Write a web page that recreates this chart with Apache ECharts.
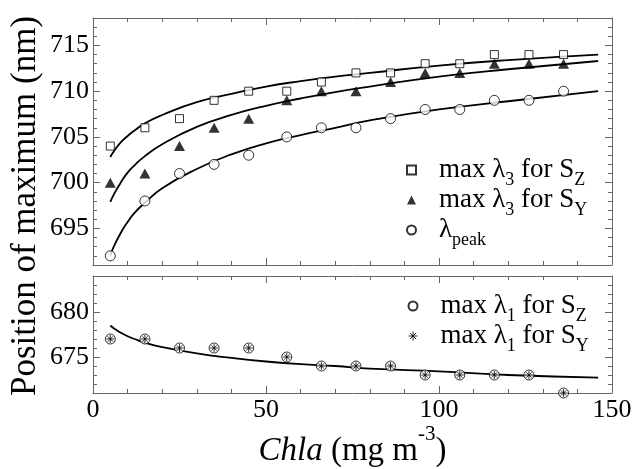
<!DOCTYPE html>
<html>
<head>
<meta charset="utf-8">
<script src="https://cdn.jsdelivr.net/npm/echarts@6/dist/echarts.min.js"></script>
<style>
  html, body { margin: 0; padding: 0; background: #fff; }
  #chart { width: 632px; height: 469px; }
</style>
</head>
<body>
<div id="chart"></div>
<script>
// Chlorophyll concentration bins (mg m^-3)
const chla = [5, 15, 25, 35, 45, 56, 66, 76, 86, 96, 106, 116, 126, 136];

// Upper panel: positions of the maxima (nm)
const maxL3Sz = [704, 706, 707, 709, 710, 710, 711, 712, 712, 713, 713, 714, 714, 714];
const maxL3Sy = [700, 701, 704, 706, 707, 709, 710, 710, 711, 712, 712, 713, 713, 713];
const lambdaPeak = [692, 698, 701, 702, 703, 705, 706, 706, 707, 708, 708, 709, 709, 710];

// Lower panel: max of lambda_1 (both spectra coincide)
const maxL1Sz = [677, 677, 676, 676, 676, 675, 674, 674, 674, 673, 673, 673, 673, 671];
const maxL1Sy = [677, 677, 676, 676, 676, 675, 674, 674, 674, 673, 673, 673, 673, 671];

// Fitted trend curves
const fitX = [5, 6, 8, 10, 12, 15, 20, 30, 40, 50, 60, 70, 80, 100, 120, 146];
const fitSz = [702.8, 703.4, 704.4, 705.1, 705.7, 706.5, 707.4, 708.8, 709.7, 710.5, 711.1, 711.6, 712.0, 712.8, 713.4, 714.0];
const fitSy = [697.9, 698.7, 700.0, 701.1, 701.9, 702.9, 704.2, 706.1, 707.4, 708.4, 709.2, 709.9, 710.5, 711.6, 712.4, 713.3];
const fitPeak = [692.0, 693.0, 694.5, 695.7, 696.7, 697.8, 699.4, 701.5, 703.1, 704.3, 705.2, 706.0, 706.8, 708.0, 708.9, 710.0];
const fitL1 = [678.5, 678.2, 677.7, 677.3, 677.0, 676.6, 676.1, 675.4, 674.9, 674.5, 674.2, 674.0, 673.7, 673.4, 673.0, 672.7];

// Tick labels
const yTicksTop = [695, 700, 705, 710, 715];
const yTicksBottom = [675, 680];
const xRange = [0, 150];
const yRangeTop = [691, 718];
const yRangeBottom = [671, 684];

const FONT = "'Liberation Serif', 'DejaVu Serif', serif";
const AXIS_COLOR = '#666';
const zip = (xs, ys) => xs.map((x, i) => [x, ys[i]]);

function xAxesFor(gridIndex, showLabels) {
  const base = {
    gridIndex, type: 'value', min: xRange[0], max: xRange[1], interval: 50,
    splitLine: { show: false },
    axisLine: { show: true, onZero: false, lineStyle: { color: AXIS_COLOR, width: 1 } },
    axisTick: { show: true, inside: true, length: 7, lineStyle: { color: AXIS_COLOR } },
    minorTick: { show: true, splitNumber: 5, length: 4, lineStyle: { color: AXIS_COLOR } }
  };
  return [
    Object.assign({}, base, {
      position: 'bottom',
      axisLabel: showLabels
        ? { show: true, fontFamily: FONT, fontSize: 26, color: '#000', margin: 4 }
        : { show: false },
      name: showLabels ? '{i|Chla}{n| (mg m}{sup|-3}{n|)}' : '',
      nameLocation: 'middle',
      nameGap: 31,
      nameTextStyle: {
        rich: {
          i: { fontFamily: FONT, fontSize: 33, fontStyle: 'italic', color: '#000', lineHeight: 40 },
          n: { fontFamily: FONT, fontSize: 33, color: '#000', lineHeight: 40 },
          sup: { fontFamily: FONT, fontSize: 21, color: '#000', lineHeight: 40, padding: [0, 0, 34, 0] }
        }
      }
    }),
    Object.assign({}, base, { position: 'top', axisLabel: { show: false } })
  ];
}

function yAxesFor(gridIndex, range, majors) {
  const common = {
    gridIndex, type: 'value', min: range[0], max: range[1],
    splitLine: { show: false }
  };
  const minor = (pos) => Object.assign({}, common, {
    position: pos, interval: 1,
    axisLine: { show: true, onZero: false, lineStyle: { color: AXIS_COLOR, width: 1 } },
    axisTick: { show: true, inside: true, length: 4, lineStyle: { color: AXIS_COLOR } },
    axisLabel: { show: false }
  });
  const major = (pos, labels) => Object.assign({}, common, {
    position: pos,
    axisLine: { show: false, onZero: false },
    axisTick: { show: true, inside: true, length: 7, customValues: majors, lineStyle: { color: AXIS_COLOR } },
    axisLabel: labels
      ? { show: true, customValues: majors, fontFamily: FONT, fontSize: 26, color: '#000', margin: 4 }
      : { show: false }
  });
  return [minor('left'), major('left', true), minor('right'), major('right', false)];
}

const lineStyle = { color: '#000', width: 1.8 };
const openStyle = { color: '#fff', borderColor: '#000', borderWidth: 1 };
const starStyle = { color: 'none', borderColor: '#000', borderWidth: 1 };
const asterisk = 'path://M5 0L5 10M0 5L10 5M1.6 1.6L8.4 8.4M8.4 1.6L1.6 8.4';

const legendRich = {
  t: { fontFamily: FONT, fontSize: 27, color: '#000', lineHeight: 30 },
  s: { fontFamily: FONT, fontSize: 18, color: '#000', lineHeight: 30, padding: [20, 0, 0, 0] }
};
const legendLabels = {
  'max λ3 for SZ': '{t|max λ}{s|3}{t| for S}{s|Z}',
  'max λ3 for SY': '{t|max λ}{s|3}{t| for S}{s|Y}',
  'λpeak': '{t|λ}{s|peak}',
  'max λ1 for SZ': '{t|max λ}{s|1}{t| for S}{s|Z}',
  'max λ1 for SY': '{t|max λ}{s|1}{t| for S}{s|Y}'
};
const legendBase = {
  orient: 'vertical', left: 401, itemWidth: 9, itemHeight: 9, itemGap: -8,
  selectedMode: false,
  formatter: (name) => legendLabels[name],
  textStyle: { rich: legendRich, padding: [0, 0, 0, 18] }
};

const option = {
  animation: false,
  backgroundColor: '#fff',
  grid: [
    { left: 93, top: 18, width: 519, height: 247, show: false, outerBoundsMode: 'none' },
    { left: 93, top: 276, width: 519, height: 117, show: false, outerBoundsMode: 'none' }
  ],
  xAxis: [...xAxesFor(0, false), ...xAxesFor(1, true)],
  yAxis: [...yAxesFor(0, yRangeTop, yTicksTop), ...yAxesFor(1, yRangeBottom, yTicksBottom)],
  legend: [
    Object.assign({}, legendBase, { top: 146, data: ['max λ3 for SZ', 'max λ3 for SY', 'λpeak'] }),
    Object.assign({}, legendBase, {
      top: 282,
      data: ['max λ1 for SZ', { name: 'max λ1 for SY', itemStyle: starStyle }]
    })
  ],
  graphic: [{
    type: 'text', x: 26, y: 206, rotation: Math.PI / 2,
    style: {
      text: 'Position of maximum (nm)', font: `35px ${FONT}`, fill: '#000',
      textAlign: 'center', textVerticalAlign: 'middle'
    }
  }],
  series: [
    { name: 'fit Sz', type: 'line', xAxisIndex: 0, yAxisIndex: 0, data: zip(fitX, fitSz), smooth: true, showSymbol: false, lineStyle, silent: true, z: 2 },
    { name: 'fit Sy', type: 'line', xAxisIndex: 0, yAxisIndex: 0, data: zip(fitX, fitSy), smooth: true, showSymbol: false, lineStyle, silent: true, z: 2 },
    { name: 'fit peak', type: 'line', xAxisIndex: 0, yAxisIndex: 0, data: zip(fitX, fitPeak), smooth: true, showSymbol: false, lineStyle, silent: true, z: 2 },
    { name: 'fit L1', type: 'line', xAxisIndex: 2, yAxisIndex: 4, data: zip(fitX, fitL1), smooth: true, showSymbol: false, lineStyle, silent: true, z: 2 },
    { name: 'max λ3 for SZ', type: 'scatter', xAxisIndex: 0, yAxisIndex: 0, data: zip(chla, maxL3Sz), symbol: 'rect', symbolSize: 8, itemStyle: openStyle, z: 3 },
    { name: 'max λ3 for SY', type: 'scatter', xAxisIndex: 0, yAxisIndex: 0, data: zip(chla, maxL3Sy), symbol: 'triangle', symbolSize: [11, 10], itemStyle: { color: '#000' }, z: 3 },
    { name: 'λpeak', type: 'scatter', xAxisIndex: 0, yAxisIndex: 0, data: zip(chla, lambdaPeak), symbol: 'circle', symbolSize: 10, itemStyle: openStyle, z: 3 },
    { name: 'max λ1 for SZ', type: 'scatter', xAxisIndex: 2, yAxisIndex: 4, data: zip(chla, maxL1Sz), symbol: 'circle', symbolSize: 10, itemStyle: openStyle, z: 3 },
    { name: 'max λ1 for SY', type: 'scatter', xAxisIndex: 2, yAxisIndex: 4, data: zip(chla, maxL1Sy), symbol: asterisk, symbolSize: 8, itemStyle: starStyle, z: 4 }
  ]
};

echarts.init(document.getElementById('chart'), null, { renderer: 'canvas' }).setOption(option);
</script>
</body>
</html>
